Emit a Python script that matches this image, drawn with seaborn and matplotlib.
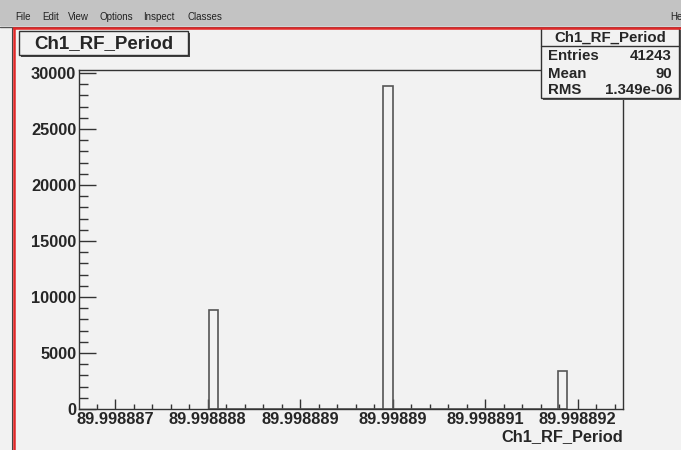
import numpy as np
import pandas as pd
import matplotlib
matplotlib.use("Agg")
import matplotlib.pyplot as plt
from matplotlib.patches import Rectangle
from matplotlib.lines import Line2D
from matplotlib.ticker import FixedLocator, MultipleLocator
import seaborn as sns

# Data
bin_centers = [89.99888806, 89.99888995, 89.99889184]
bin_counts = [8800, 28850, 3430]
bin_width = 0.0000001

x_ticks = [89.998887, 89.998888, 89.998889, 89.99889, 89.998891, 89.998892]
x_tick_labels = ["89.998887", "89.998888", "89.998889", "89.99889", "89.998891", "89.998892"]
y_ticks = [0, 5000, 10000, 15000, 20000, 25000, 30000]

hist_name = "Ch1_RF_Period"
stats_labels = ["Entries", "Mean", "RMS"]
stats_values = ["41243", "90", "1.349e-06"]
menu_items = ["File", "Edit", "View", "Options", "Inspect", "Classes"]

sns.set_style("ticks")
plt.rcParams["font.family"] = ["Liberation Sans", "DejaVu Sans"]
plt.rcParams["font.weight"] = "bold"

W, H = 681, 450
bg = "#f2f2f2"
fig = plt.figure(figsize=(W / 100, H / 100), dpi=100)
fig.patch.set_facecolor(bg)


def fx(px):
    return px / W


def fy(py):
    return 1 - py / H


# Histogram frame
ax_l, ax_r, ax_t, ax_b = 79, 623, 70, 409
ax = fig.add_axes([fx(ax_l), fy(ax_b), fx(ax_r - ax_l), (ax_b - ax_t) / H])
ax.set_facecolor(bg)

df = pd.DataFrame({"x": bin_centers, "n": bin_counts})
edges = sorted([c - bin_width / 2 for c in bin_centers] + [c + bin_width / 2 for c in bin_centers])
sns.histplot(data=df, x="x", weights="n", bins=edges, fill=False, element="bars",
             color="#555555", linewidth=1.2, ax=ax)

ax.set_xlim(89.99888661, 89.99889249)
ax.set_ylim(0, 30270)
ax.xaxis.set_major_locator(FixedLocator(x_ticks))
ax.set_xticklabels(x_tick_labels)
ax.xaxis.set_minor_locator(MultipleLocator(0.0000002))
ax.set_yticks(y_ticks)
ax.set_yticklabels([str(v) for v in y_ticks])
ax.yaxis.set_minor_locator(MultipleLocator(1000))
ax.set_xlabel("")
ax.set_ylabel("")

for s in ax.spines.values():
    s.set_visible(True)
    s.set_color("#333333")
    s.set_linewidth(1.0)

ax.tick_params(axis="y", which="major", direction="in", length=12, width=1,
               color="#333333", labelsize=11.8, pad=2)
ax.tick_params(axis="y", which="minor", direction="in", length=6.5, width=1, color="#333333")
ax.tick_params(axis="x", which="major", direction="in", length=7, width=1,
               color="#333333", labelsize=11.8, pad=2)
ax.tick_params(axis="x", which="minor", direction="in", length=3.6, width=1, color="#333333")
for lab in ax.get_xticklabels() + ax.get_yticklabels():
    lab.set_fontweight("bold")

fig.text(fx(623), fy(437), hist_name, ha="right", va="center", fontsize=11.8, fontweight="bold")

# Menu bar of the ROOT canvas window
fig.patches.append(Rectangle((0, fy(26)), 1, 26 / H, transform=fig.transFigure,
                             facecolor="#c3c3c3", edgecolor="none", zorder=0))
menu_x = [15, 42, 68, 100, 143, 187]
for name, px in zip(menu_items, menu_x):
    fig.text(fx(px), fy(17), name, fontsize=7, fontweight="normal", color="#222222",
             va="center", ha="left", family=["Liberation Sans Narrow", "Liberation Sans"])
fig.text(fx(670), fy(17), "He", fontsize=7, fontweight="normal", color="#222222",
         va="center", ha="left")
fig.lines.append(Line2D([0, 1], [fy(26.5), fy(26.5)], transform=fig.transFigure,
                        color="#555555", linewidth=1))
fig.lines.append(Line2D([fx(13), 1], [fy(28), fy(28)], transform=fig.transFigure,
                        color="#e02828", linewidth=1.8))
fig.lines.append(Line2D([fx(11.5), fx(11.5)], [fy(28), 0], transform=fig.transFigure,
                        color="#444444", linewidth=0.8))
fig.lines.append(Line2D([fx(13.5), fx(13.5)], [fy(28), 0], transform=fig.transFigure,
                        color="#e02828", linewidth=1.8))

# Title box with shadow
tb_l, tb_r, tb_t, tb_b = 19, 188, 31, 55
fig.patches.append(Rectangle((fx(tb_l + 2), fy(tb_b + 2)), fx(tb_r - tb_l), (tb_b - tb_t) / H,
                             transform=fig.transFigure, facecolor="#444444", edgecolor="none"))
fig.patches.append(Rectangle((fx(tb_l), fy(tb_b)), fx(tb_r - tb_l), (tb_b - tb_t) / H,
                             transform=fig.transFigure, facecolor=bg, edgecolor="#333333",
                             linewidth=1))
fig.text(fx((tb_l + tb_r) / 2), fy(43.5), hist_name, ha="center", va="center",
         fontsize=13.5, fontweight="bold")

# Statistics box
sb_l, sb_r, sb_t, sb_b = 541, 679, 28, 98
fig.patches.append(Rectangle((fx(sb_l + 1.5), fy(sb_b + 1.5)), fx(sb_r - sb_l), (sb_b - sb_t) / H,
                             transform=fig.transFigure, facecolor="#555555", edgecolor="none"))
fig.patches.append(Rectangle((fx(sb_l), fy(sb_b)), fx(sb_r - sb_l), (sb_b - sb_t) / H,
                             transform=fig.transFigure, facecolor=bg, edgecolor="#333333",
                             linewidth=1))
fig.lines.append(Line2D([fx(sb_l), fx(sb_r)], [fy(46), fy(46)], transform=fig.transFigure,
                        color="#333333", linewidth=1))
fig.text(fx((sb_l + sb_r) / 2), fy(37.5), hist_name, ha="center", va="center",
         fontsize=10.8, fontweight="bold")
for i, (lab, val) in enumerate(zip(stats_labels, stats_values)):
    yy = fy(56.5 + 17 * i)
    fig.text(fx(548), yy, lab, ha="left", va="center", fontsize=10.8, fontweight="bold")
    fig.text(fx(672), yy, val, ha="right", va="center", fontsize=10.8, fontweight="bold")

fig.savefig("out.png", dpi=100, facecolor=fig.get_facecolor())
